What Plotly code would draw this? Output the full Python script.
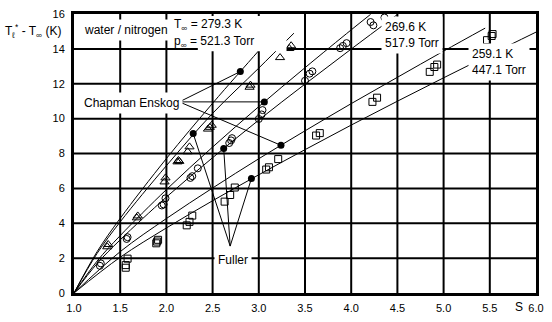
import plotly.graph_objects as go

# Measured data: droplet temperature excess vs. supersaturation S
tri_s = [1.36, 1.37, 1.68, 1.69, 1.98, 1.99, 2.12, 2.13, 2.14, 2.23, 2.25,
         2.45, 2.47, 2.49, 2.90, 2.91, 3.23, 3.33, 3.35]
tri_y = [2.65, 2.78, 4.31, 4.42, 6.37, 6.60, 7.52, 7.60, 7.55, 8.10, 8.38,
         9.40, 9.50, 9.62, 11.80, 11.92, 13.50, 14.02, 14.18]

cir_s = [1.28, 1.29, 1.57, 1.58, 1.95, 1.97, 1.99, 2.26, 2.28, 2.34,
         2.68, 2.70, 2.71, 3.00, 3.03, 3.04, 3.50, 3.55, 3.58,
         3.88, 3.91, 3.95, 4.21, 4.24, 4.36]
cir_y = [1.56, 1.70, 3.10, 3.20, 5.02, 5.08, 5.43, 6.60, 6.70, 7.15,
         8.60, 8.75, 8.88, 9.98, 10.24, 10.49, 12.17, 12.58, 12.71,
         14.04, 14.17, 14.33, 15.54, 15.35, 15.80]

sq_s = [1.56, 1.56, 1.58, 1.89, 1.90, 1.91, 2.22, 2.25, 2.28, 2.63, 2.69, 2.74,
        3.08, 3.11, 3.21, 3.62, 3.66, 4.23, 4.28, 4.85, 4.90, 4.93,
        5.47, 5.52, 5.53]
sq_y = [1.45, 1.60, 1.97, 2.85, 2.95, 3.05, 3.88, 4.08, 4.44, 5.24, 5.62, 6.05,
        7.08, 7.21, 7.68, 9.03, 9.17, 10.96, 11.20, 12.68, 12.96, 13.10,
        14.50, 14.74, 14.85]

# Model curves (Chapman Enskog and Fuller diffusion coefficients)
ce1_s = [1.0, 1.25, 1.5, 2.0, 2.5, 3.0, 3.25]
ce1_y = [0.0, 2.37, 4.28, 7.71, 10.88, 13.90, 15.40]
fu1_s = [1.0, 1.25, 1.5, 2.0, 2.5, 3.0, 3.38]
fu1_y = [0.0, 2.27, 4.08, 7.30, 10.30, 12.90, 14.90]

ce2_s = [1.0, 1.25, 1.5, 2.0, 2.5, 3.0, 3.5, 4.0, 4.21]
ce2_y = [0.0, 1.83, 3.29, 5.93, 8.37, 10.69, 12.92, 15.09, 15.98]
fu2_s = [1.0, 1.25, 1.5, 2.0, 2.5, 3.0, 3.5, 4.0, 4.5]
fu2_y = [0.0, 1.69, 3.05, 5.50, 7.76, 9.92, 11.98, 13.99, 15.97]

ce3_s = [1.0, 1.5, 2.0, 2.5, 3.0, 3.5, 4.0, 4.5, 5.0, 5.45]
ce3_y = [0.0, 2.37, 4.27, 6.02, 7.70, 9.30, 10.86, 12.37, 13.87, 15.19]
fu3_s = [1.0, 1.5, 2.0, 2.5, 3.0, 3.5, 4.0, 4.5, 5.0, 5.5, 6.0]
fu3_y = [0.0, 2.05, 3.73, 5.29, 6.78, 8.22, 9.63, 11.00, 12.34, 13.66, 14.96]

# Highlighted points on the model curves
ce_dot_s = [2.80, 3.06, 3.24]
ce_dot_y = [12.70, 10.96, 8.47]
fu_dot_s = [2.29, 2.62, 2.92]
fu_dot_y = [9.14, 8.28, 6.56]

# Label anchor points for the pointer lines
ce_label = (2.14, 10.96)
fu_label = (2.69, 2.69)

x_ticks = [1.0, 1.5, 2.0, 2.5, 3.0, 3.5, 4.0, 4.5, 5.0, 5.5, 6.0]
y_ticks = [0, 2, 4, 6, 8, 10, 12, 14, 16]

FONT = "Liberation Sans, Arial, Helvetica, sans-serif"

fig = go.Figure()

# Grid drawn as black rules across the plotting area
for xv in x_ticks[1:-1]:
    fig.add_shape(type="line", xref="x", yref="paper", x0=xv, x1=xv, y0=0, y1=1,
                  line=dict(color="black", width=2), layer="below")
for yv in y_ticks[1:-1]:
    fig.add_shape(type="line", xref="paper", yref="y", x0=0, x1=1, y0=yv, y1=yv,
                  line=dict(color="black", width=2), layer="below")

line_style = dict(color="black", width=1)
for xs, ys in [(ce1_s, ce1_y), (fu1_s, fu1_y), (ce2_s, ce2_y),
               (fu2_s, fu2_y), (ce3_s, ce3_y), (fu3_s, fu3_y)]:
    fig.add_trace(go.Scatter(x=xs, y=ys, mode="lines", line_shape="spline",
                             line=line_style, hoverinfo="skip"))

# Pointer lines from the labels to the curve markers
for (lx, ly), ds, dy in [(ce_label, ce_dot_s, ce_dot_y), (fu_label, fu_dot_s, fu_dot_y)]:
    for sx, sy in zip(ds, dy):
        fig.add_trace(go.Scatter(x=[lx, sx], y=[ly, sy], mode="lines",
                                 line=line_style, hoverinfo="skip"))

mk_line = dict(color="black", width=1)
fig.add_trace(go.Scatter(x=tri_s, y=tri_y, mode="markers",
                         marker=dict(symbol="triangle-up-open", size=8, color="black", line=mk_line)))
fig.add_trace(go.Scatter(x=cir_s, y=cir_y, mode="markers",
                         marker=dict(symbol="circle-open", size=7, color="black", line=mk_line)))
fig.add_trace(go.Scatter(x=sq_s, y=sq_y, mode="markers",
                         marker=dict(symbol="square-open", size=7, color="black", line=mk_line)))
fig.add_trace(go.Scatter(x=ce_dot_s + fu_dot_s, y=ce_dot_y + fu_dot_y, mode="markers",
                         marker=dict(symbol="circle", size=7, color="black")))

# White panel behind the ambient-condition text of the warmest series
fig.add_shape(type="rect", xref="x", yref="y", x0=2.34, x1=3.30, y0=13.87, y1=15.89,
              fillcolor="white", line=dict(width=0), layer="above")


def label(x, y, text, bg="white", shift=0):
    fig.add_annotation(x=x, y=y, xref="x", yref="y", text=text, showarrow=False,
                       xanchor="left", yanchor="middle", align="left",
                       bgcolor=bg, borderpad=3, xshift=shift,
                       font=dict(family=FONT, size=12, color="black"))


label(1.06, 15.10, "water / nitrogen")
label(2.37, 15.36, "T<sub>∞</sub> = 279.3 K", bg="rgba(0,0,0,0)", shift=-31)
label(2.37, 14.42, "p<sub>∞</sub> = 521.3 Torr", bg="rgba(0,0,0,0)", shift=-31)
label(4.32, 14.80, "269.6 K<br>517.9 Torr")
label(5.26, 13.25, "259.1 K<br>447.1 Torr")
label(1.06, 10.91, "Chapman Enskog")
label(2.52, 1.90, "Fuller")

fig.add_annotation(x=-0.023, y=0.94, xref="paper", yref="paper", showarrow=False,
                   xanchor="right", yanchor="middle",
                   text="T<sub>ℓ</sub><sup>*</sup> - T<sub>∞</sub> (K)",
                   font=dict(family=FONT, size=12, color="black"))
fig.add_annotation(x=0.964, y=-0.05, xref="paper", yref="paper", showarrow=False,
                   xanchor="center", yanchor="middle", text="S",
                   font=dict(family=FONT, size=12, color="black"))

axis_common = dict(showgrid=False,
                   showline=True, linecolor="black", linewidth=3, mirror=True,
                   zeroline=False, ticks="",
                   tickfont=dict(family=FONT, size=11, color="black"))

fig.update_xaxes(range=[1.0, 6.0], tickvals=x_ticks,
                 ticktext=[f"{v:.1f}" for v in x_ticks], ticklabelstandoff=3,
                 **axis_common)
fig.update_yaxes(range=[0, 16], tickvals=y_ticks,
                 ticktext=[str(v) for v in y_ticks], ticklabelstandoff=4, **axis_common)

fig.update_layout(width=552, height=322, showlegend=False,
                  margin=dict(l=74, r=8, t=10, b=26),
                  plot_bgcolor="white", paper_bgcolor="white")

fig.write_html("out.html")
